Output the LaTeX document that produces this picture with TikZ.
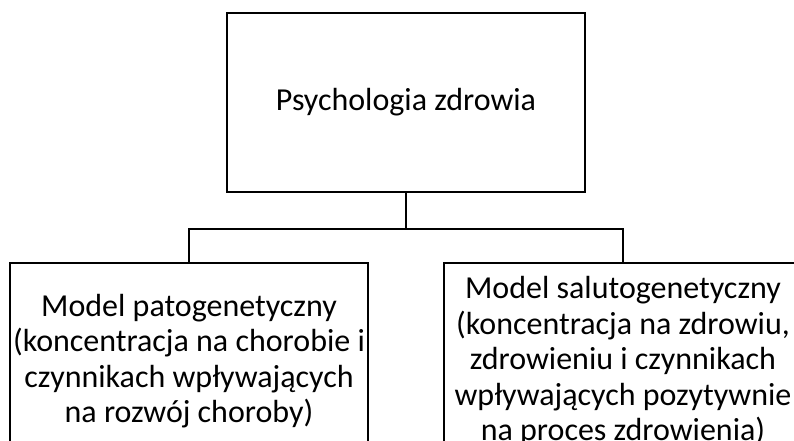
\documentclass[tikz,border=0pt]{standalone}
\usepackage{fontspec}
\setmainfont{Carlito}

\tikzset{
    box/.style={draw, line width=2pt, minimum width=358pt, align=center, inner xsep=0pt,
        font=\fontsize{32}{35.5}\selectfont},
    link/.style={line width=2pt}
}

\begin{document}
\begin{tikzpicture}[x=1pt, y=-1pt]
    \useasboundingbox (0,0) rectangle (794,441);
    \clip (0,0) rectangle (794,441);
    
    \node[box, minimum height=179pt] (health) at (406,102.5) {Psychologia zdrowia};
    
    \node[box, minimum height=196pt] (pato) at (189,361) {Model patogenetyczny\\(koncentracja na chorobie i\\czynnikach wpływających\\na rozwój choroby)};
    \node[box, minimum height=196pt] (saluto) at (623,361) {Model salutogenetyczny\\(koncentracja na zdrowiu,\\zdrowieniu i czynnikach\\wpływających pozytywnie\\na proces zdrowienia)};
    
    \coordinate (split) at (406,229);
    \draw[link](health.south)--(split);
    \draw[link](split)-|(pato.north);
    \draw[link](split)-|(saluto.north);
\end{tikzpicture}
\end{document}
